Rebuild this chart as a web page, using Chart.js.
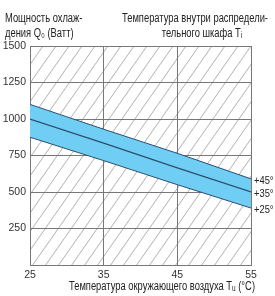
<!DOCTYPE html>
<html>
<head>
<meta charset="utf-8">
<script src="https://cdn.jsdelivr.net/npm/chart.js@4"></script>
<style>
  html, body { margin: 0; padding: 0; background: #fff; }
  canvas { display: block; }
</style>
</head>
<body>
<canvas id="coolChart" width="275" height="296"></canvas>
<script>
// ambient temperature Tu (°C)
const ambientTemps = [25, 35, 45, 55];
// cooling power Q0 (W) for each inside temperature Ti
const q45 = [1100, 930, 765, 590];
const q35 = [1000, 835, 665, 500];
const q25 = [875, 715, 550, 390];
const seriesLabels = ['+45°', '+35°', '+25°'];
const yTicks = [250, 500, 750, 1000, 1250, 1500];
const xTicks = [25, 35, 45, 55];

const FONT = "'Liberation Sans', Arial, sans-serif";
Chart.defaults.font.family = FONT;
Chart.defaults.color = '#333';

const toPts = arr => arr.map((v, i) => ({ x: ambientTemps[i], y: v }));

// text squeezed horizontally (the original uses a condensed face)
function narrowText(ctx, txt, x, y, align, sx) {
  ctx.save();
  ctx.translate(x, y);
  ctx.scale(sx, 1);
  ctx.textAlign = align;
  ctx.fillText(txt, 0, 0);
  ctx.restore();
}

// hatch background behind everything
const hatch = {
  id: 'hatch',
  beforeDraw(chart) {
    const { ctx, chartArea: a } = chart;
    ctx.save();
    ctx.beginPath();
    ctx.rect(a.left, a.top, a.right - a.left, a.bottom - a.top);
    ctx.clip();
    ctx.strokeStyle = '#a8a8a8';
    ctx.lineWidth = 0.9;
    const h = a.bottom - a.top;
    const slope = 0.7;
    for (let x = a.left - h * slope; x < a.right + 20; x += 13) {
      ctx.beginPath();
      ctx.moveTo(x, a.bottom);
      ctx.lineTo(x + h * slope, a.top);
      ctx.stroke();
    }
    ctx.restore();
  }
};

// titles and the line labels at the right
const texts = {
  id: 'texts',
  afterDraw(chart) {
    const { ctx, chartArea: a } = chart;
    ctx.save();
    ctx.fillStyle = '#222';
    ctx.font = '12px ' + FONT;
    ctx.textBaseline = 'alphabetic';
    narrowText(ctx, 'Мощность охлаж-', 5, 22, 'left', 0.78);
    narrowText(ctx, 'дения Q₀ (Ватт)', 5, 37, 'left', 0.78);
    narrowText(ctx, 'Температура внутри распредели-', 195, 22, 'center', 0.78);
    narrowText(ctx, 'тельного шкафа Tᵢ', 202, 37, 'center', 0.78);
    narrowText(ctx, 'Температура окружающего воздуха Tᵤ (°C)', 162, 290, 'center', 0.78);

    ctx.font = '11px ' + FONT;
    ctx.textBaseline = 'middle';
    chart.data.datasets.forEach((ds, i) => {
      const pts = chart.getDatasetMeta(i).data;
      const p = pts[pts.length - 1];
      narrowText(ctx, seriesLabels[i], a.right + 3, p.y + 2, 'left', 0.85);
    });
    ctx.restore();
  }
};

new Chart(document.getElementById('coolChart'), {
  type: 'line',
  data: {
    datasets: [
      { data: toPts(q45), borderColor: '#2c4f6e', borderWidth: 1, pointRadius: 0,
        fill: '+2', backgroundColor: '#70cdf3', tension: 0 },
      { data: toPts(q35), borderColor: '#2c4f6e', borderWidth: 1.2, pointRadius: 0,
        fill: false, tension: 0 },
      { data: toPts(q25), borderColor: '#2c4f6e', borderWidth: 1, pointRadius: 0,
        fill: false, tension: 0 }
    ]
  },
  options: {
    responsive: false,
    animation: false,
    devicePixelRatio: 1,
    layout: { padding: { top: 46, right: 24, left: 0, bottom: 0 } },
    plugins: {
      legend: { display: false },
      tooltip: { enabled: false },
      filler: { drawTime: 'beforeDatasetsDraw' }
    },
    scales: {
      x: {
        type: 'linear', min: 25, max: 55, z: 1,
        afterBuildTicks: s => { s.ticks = xTicks.map(v => ({ value: v })); },
        afterFit: s => { s.height = 31; },
        grid: { color: '#777', lineWidth: 1, drawTicks: false },
        border: { color: '#777' },
        ticks: { padding: 4, font: { size: 10.5 }, color: '#333' }
      },
      y: {
        type: 'linear', min: 0, max: 1500, z: 1,
        afterBuildTicks: s => { s.ticks = [0].concat(yTicks).map(v => ({ value: v })); },
        afterFit: s => { s.width = 30; },
        grid: { color: '#777', lineWidth: 1, drawTicks: false },
        border: { color: '#777' },
        ticks: { padding: 4, font: { size: 10.5 }, color: '#333',
          callback: v => (v === 0 ? '' : v) }
      }
    }
  },
  plugins: [hatch, texts]
});
</script>
</body>
</html>
